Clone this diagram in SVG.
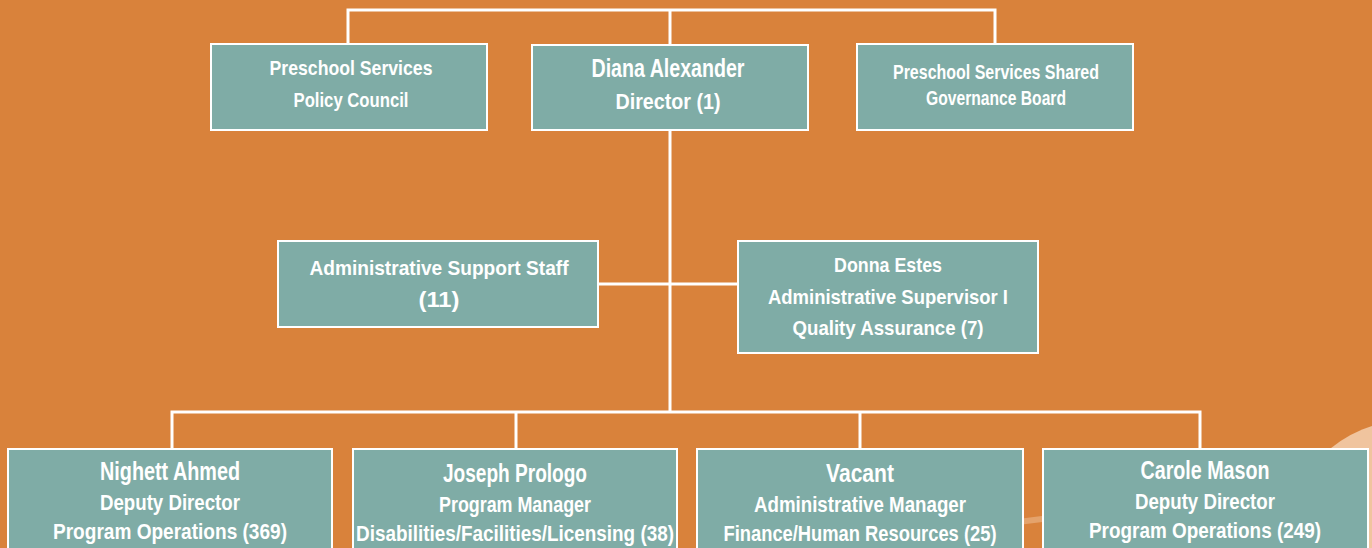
<svg xmlns="http://www.w3.org/2000/svg" width="1372" height="548" viewBox="0 0 1372 548">
<style>
.bg{fill:#D9823B}
.box{fill:#7FACA6;stroke:#FFFFFF;stroke-width:2}
.ln{stroke:#FFFFFF;stroke-width:3;fill:none}
text{fill:#FFFFFF;font-family:"Liberation Sans",Arial,sans-serif;font-weight:bold;text-anchor:middle}
.t{font-size:21px}
.b{font-size:25px}
.m{font-size:22px}
</style>
<rect class="bg" x="0" y="0" width="1372" height="548"/>
<circle cx="1410" cy="545" r="125" fill="#F0C49E"/>
<line x1="995" y1="525" x2="1050" y2="518" stroke="#F0C49E" stroke-width="6" opacity="0.5"/>
<g id="connectors">
<polyline class="ln" points="348,44 348,10 995,10 995,44"/>
<line class="ln" x1="670" y1="10" x2="670" y2="45"/>
<line class="ln" x1="670" y1="130" x2="670" y2="412"/>
<line class="ln" x1="598" y1="284" x2="738" y2="284"/>
<polyline class="ln" points="172,449 172,412 1200,412 1200,449"/>
<line class="ln" x1="516" y1="412" x2="516" y2="449"/>
<line class="ln" x1="860" y1="412" x2="860" y2="449"/>
</g>
<g id="policy-council">
<rect class="box" x="211" y="44" width="276" height="86"/>
<text class="t" x="351" y="75" textLength="163" lengthAdjust="spacingAndGlyphs">Preschool Services</text>
<text class="t" x="351" y="107" textLength="115" lengthAdjust="spacingAndGlyphs">Policy Council</text>
</g>
<g id="director">
<rect class="box" x="532" y="45" width="276" height="85"/>
<text class="b" x="668" y="77" textLength="153" lengthAdjust="spacingAndGlyphs">Diana Alexander</text>
<text class="m" x="668" y="109" textLength="105" lengthAdjust="spacingAndGlyphs">Director (1)</text>
</g>
<g id="governance-board">
<rect class="box" x="857" y="44" width="276" height="86"/>
<text class="t" x="996" y="79" textLength="206" lengthAdjust="spacingAndGlyphs">Preschool Services Shared</text>
<text class="t" x="996" y="105" textLength="140" lengthAdjust="spacingAndGlyphs">Governance Board</text>
</g>
<g id="admin-support">
<rect class="box" x="278" y="241" width="320" height="86"/>
<text class="t" x="439" y="275" textLength="259" lengthAdjust="spacingAndGlyphs">Administrative Support Staff</text>
<text class="m" x="439" y="307" textLength="41" lengthAdjust="spacingAndGlyphs">(11)</text>
</g>
<g id="donna-estes">
<rect class="box" x="738" y="241" width="300" height="112"/>
<text class="t" x="888" y="272" textLength="108" lengthAdjust="spacingAndGlyphs">Donna Estes</text>
<text class="t" x="888" y="304" textLength="240" lengthAdjust="spacingAndGlyphs">Administrative Supervisor I</text>
<text class="t" x="888" y="335" textLength="191" lengthAdjust="spacingAndGlyphs">Quality Assurance (7)</text>
</g>
<g id="nighett-ahmed">
<rect class="box" x="8" y="449" width="324" height="110"/>
<text class="b" x="170" y="480" textLength="140" lengthAdjust="spacingAndGlyphs">Nighett Ahmed</text>
<text class="m" x="170" y="510" textLength="140" lengthAdjust="spacingAndGlyphs">Deputy Director</text>
<text class="m" x="170" y="539" textLength="234" lengthAdjust="spacingAndGlyphs">Program Operations (369)</text>
</g>
<g id="joseph-prologo">
<rect class="box" x="353" y="449" width="324" height="110"/>
<text class="b" x="515" y="482" textLength="144" lengthAdjust="spacingAndGlyphs">Joseph Prologo</text>
<text class="m" x="515" y="512" textLength="152" lengthAdjust="spacingAndGlyphs">Program Manager</text>
<text class="m" x="515" y="541" textLength="318" lengthAdjust="spacingAndGlyphs">Disabilities/Facilities/Licensing (38)</text>
</g>
<g id="vacant">
<rect class="box" x="697" y="449" width="326" height="110"/>
<text class="b" x="860" y="482" textLength="68" lengthAdjust="spacingAndGlyphs">Vacant</text>
<text class="m" x="860" y="512" textLength="212" lengthAdjust="spacingAndGlyphs">Administrative Manager</text>
<text class="m" x="860" y="541" textLength="273" lengthAdjust="spacingAndGlyphs">Finance/Human Resources (25)</text>
</g>
<g id="carole-mason">
<rect class="box" x="1043" y="449" width="325" height="110"/>
<text class="b" x="1205" y="479" textLength="129" lengthAdjust="spacingAndGlyphs">Carole Mason</text>
<text class="m" x="1205" y="509" textLength="140" lengthAdjust="spacingAndGlyphs">Deputy Director</text>
<text class="m" x="1205" y="538" textLength="232" lengthAdjust="spacingAndGlyphs">Program Operations (249)</text>
</g>
</svg>
